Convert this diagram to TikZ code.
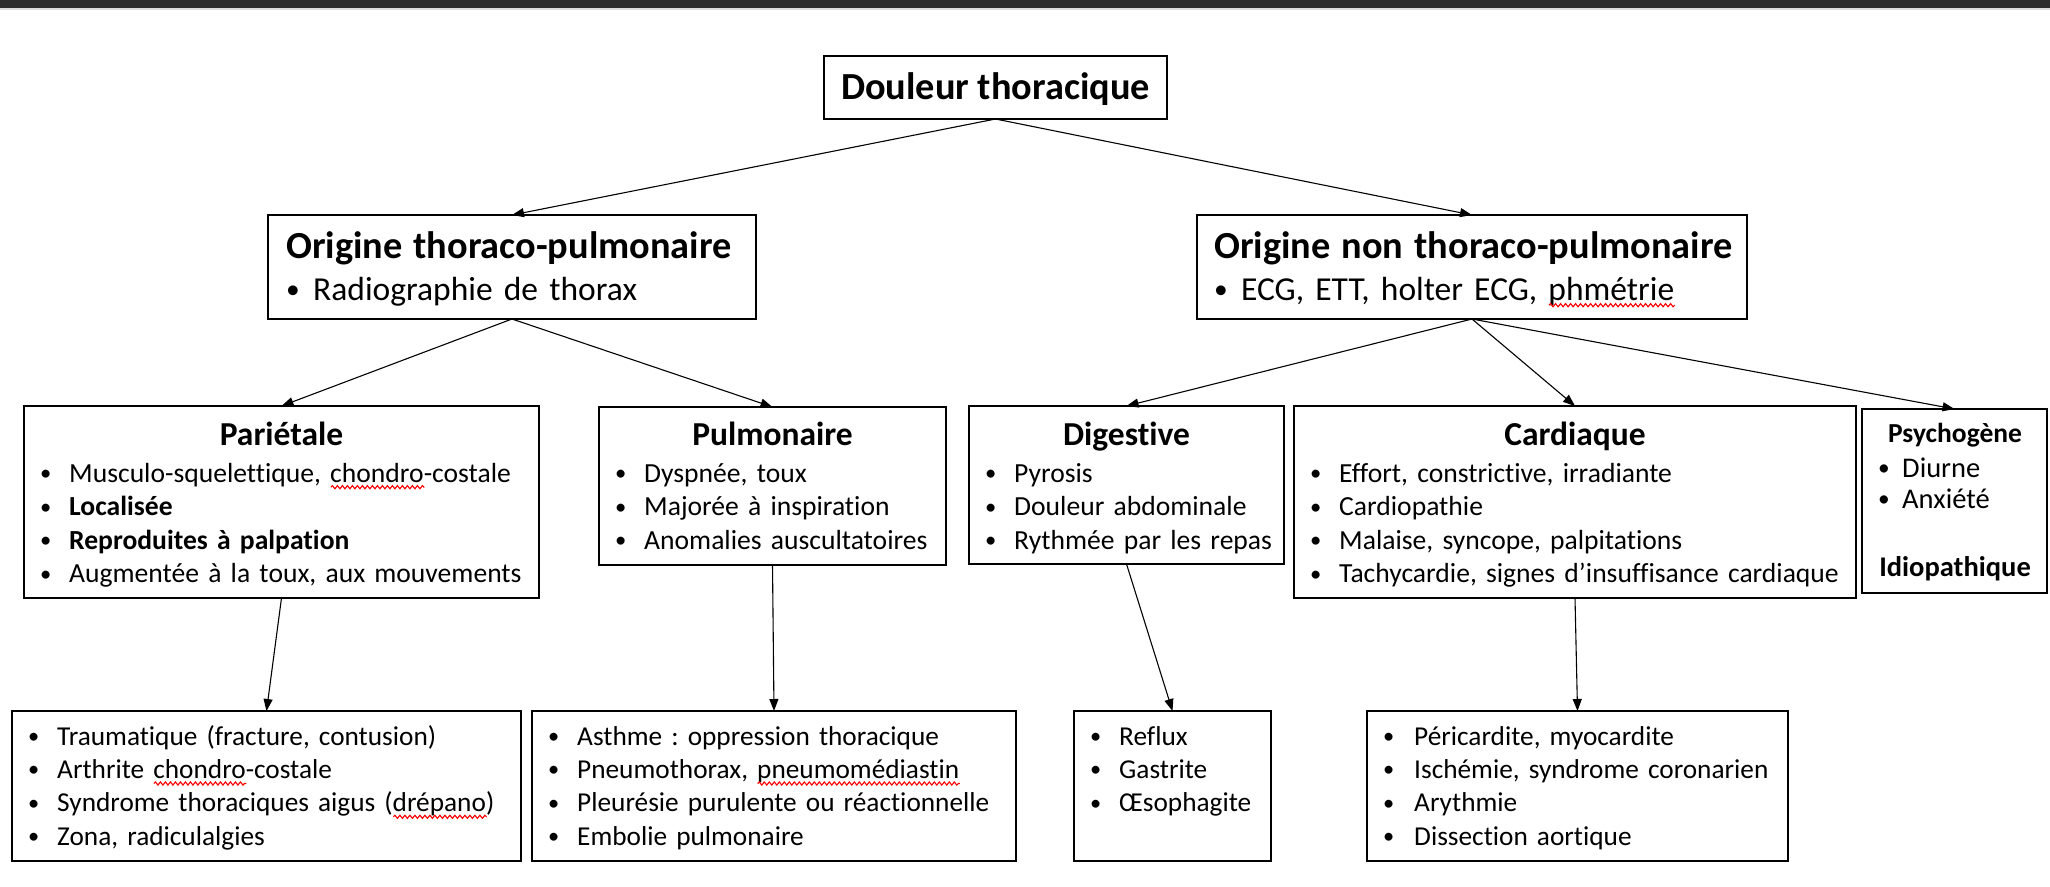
\documentclass[tikz,border=0pt]{standalone}
\usepackage{graphicx}
\usepackage{fontspec}
\setmainfont{Carlito}[Ligatures={NoCommon}]
\usetikzlibrary{arrows.meta,decorations.pathmorphing}
\frenchspacing
\newcommand\redwave[1]{\setbox0\hbox{#1}\edef\wavelen{\the\wd0}\rlap{\copy0}\rlap{\tikz[baseline=0pt]\draw[red, line width=1.1pt, decorate, decoration={snake, amplitude=1.6pt, segment length=5pt}] (0pt,-5pt) -- (\wavelen,-5pt);}\kern\wavelen\relax}
\definecolor{topbar}{RGB}{45,45,45}
\definecolor{topline}{RGB}{220,220,220}
\newcommand\bul{\raisebox{0.06em}{\scalebox{0.82}{•}}}
\newcommand\itm[2][29pt]{\makebox[#1][l]{\bul}#2\par}
\tikzset{
  box/.style={draw=black, line width=2pt, anchor=north west, inner sep=0pt, outer sep=0pt},
  conn/.style={line width=1.1pt, -{Triangle[length=12pt,width=9pt]}},
  lst/.style={anchor=north west, inner sep=0pt, text width=800pt, align=left, yshift=30pt,
    execute at begin node={\frenchspacing\parindent=0pt\rule{0pt}{30pt}}},
  bodyA/.style={font=\fontsize{27.6}{33.5}\selectfont},
  bodyB/.style={font=\fontsize{27.3}{33.3}\selectfont},
  ttlA/.style={anchor=base, inner sep=0pt, font=\fontsize{38.3}{42}\selectfont\bfseries},
  ttlB/.style={anchor=base, inner sep=0pt, font=\fontsize{33.5}{38}\selectfont\bfseries},
  ttlC/.style={anchor=base, inner sep=0pt, font=\fontsize{27.5}{31}\selectfont\bfseries},
}
\begin{document}
\begin{tikzpicture}[x=1pt,y=-1pt]
\useasboundingbox (0,0) rectangle (2050,886);
\fill[topbar] (0,0) rectangle (2050,8);
\fill[topline] (0,8) rectangle (2050,10);

% boxes
\node[box, minimum width=343pt, minimum height=63pt] (dt) at (824,56) {};
\node[box, minimum width=488pt, minimum height=104pt] (otp) at (268,215) {};
\node[box, minimum width=550pt, minimum height=104pt] (ontp) at (1197,215) {};
\node[box, minimum width=515pt, minimum height=192pt] (par) at (24,406) {};
\node[box, minimum width=347pt, minimum height=158pt] (pul) at (599,407) {};
\node[box, minimum width=315pt, minimum height=158pt] (dig) at (969,406) {};
\node[box, minimum width=562pt, minimum height=192pt] (car) at (1294,406) {};
\node[box, minimum width=185pt, minimum height=184pt] (psy) at (1862,409) {};
\node[box, minimum width=509pt, minimum height=150pt] (parC) at (12,711) {};
\node[box, minimum width=484pt, minimum height=150pt] (pulC) at (532,711) {};
\node[box, minimum width=197pt, minimum height=150pt] (digC) at (1074,711) {};
\node[box, minimum width=421pt, minimum height=150pt] (carC) at (1367,711) {};

% texts
\node[ttlA] (dtT) at (995.5,99) {Douleur thoracique};
\node[lst, font=\fontsize{33.5}{42}\selectfont] (otpL) at (286,258)
  {{\fontsize{38.3}{42}\selectfont\bfseries Origine thoraco-pulmonaire\par}\itm[27pt]{Radiographie de thorax}};
\node[lst, font=\fontsize{33.5}{42}\selectfont] (ontpL) at (1214,258)
  {{\fontsize{38.3}{42}\selectfont\bfseries Origine non thoraco-pulmonaire\par}\itm[27pt]{ECG, ETT, holter ECG, \redwave{phmétrie}}};

\node[ttlB] (parT) at (281.5,445) {Pariétale};
\node[lst, bodyA] (parL) at (40,482) {%
  \itm{Musculo-squelettique, \redwave{chondro}-costale}%
  \itm{\textbf{Localisée}}%
  \itm{\textbf{Reproduites à palpation}}%
  \itm{Augmentée à la toux, aux mouvements}};

\node[ttlB] (pulT) at (772.5,445) {Pulmonaire};
\node[lst, bodyA] (pulL) at (615,482) {%
  \itm{Dyspnée, toux}%
  \itm{Majorée à inspiration}%
  \itm{Anomalies auscultatoires}};

\node[ttlB] (digT) at (1126.5,445) {Digestive};
\node[lst, bodyA] (digL) at (985,482) {%
  \itm{Pyrosis}%
  \itm{Douleur abdominale}%
  \itm{Rythmée par les repas}};

\node[ttlB] (carT) at (1575,445) {Cardiaque};
\node[lst, bodyA] (carL) at (1310,482) {%
  \itm{Effort, constrictive, irradiante}%
  \itm{Cardiopathie}%
  \itm{Malaise, syncope, palpitations}%
  \itm{Tachycardie, signes d’insuffisance cardiaque}};

\node[ttlC] (psyT) at (1955,442) {Psychogène};
\node[lst, font=\fontsize{28.5}{31}\selectfont] (psyL) at (1878,477) {%
  \itm[24pt]{Diurne}%
  \itm[24pt]{Anxiété}};
\node[ttlC, font=\fontsize{28.5}{31}\selectfont\bfseries] (idio) at (1955,576) {Idiopathique};

\node[lst, bodyB] (parCL) at (28,745) {%
  \itm{Traumatique (fracture, contusion)}%
  \itm{Arthrite \redwave{chondro}-costale}%
  \itm{Syndrome thoraciques aigus (\redwave{drépano})}%
  \itm{Zona, radiculalgies}};
\node[lst, bodyB] (pulCL) at (548,745) {%
  \itm{Asthme : oppression thoracique}%
  \itm{Pneumothorax, \redwave{pneumomédiastin}}%
  \itm{Pleurésie purulente ou réactionnelle}%
  \itm{Embolie pulmonaire}};
\node[lst, bodyB] (digCL) at (1090,745) {%
  \itm{Reflux}%
  \itm{Gastrite}%
  \itm{Œsophagite}};
\node[lst, bodyB] (carCL) at (1383,745) {%
  \itm[31pt]{Péricardite, myocardite}%
  \itm[31pt]{Ischémie, syndrome coronarien}%
  \itm[31pt]{Arythmie}%
  \itm[31pt]{Dissection aortique}};

% connectors
\draw[conn] (dt.south) -- (otp.north);
\draw[conn] (dt.south) -- (ontp.north);
\draw[conn] (otp.south) -- (par.north);
\draw[conn] (otp.south) -- (pul.north);
\draw[conn] (ontp.south) -- (dig.north);
\draw[conn] (ontp.south) -- (car.north);
\draw[conn] (ontp.south) -- (psy.north);
\draw[conn] (par.south) -- (parC.north);
\draw[conn] (pul.south) -- (pulC.north);
\draw[conn] (dig.south) -- (digC.north);
\draw[conn] (car.south) -- (carC.north);
\end{tikzpicture}
\end{document}
